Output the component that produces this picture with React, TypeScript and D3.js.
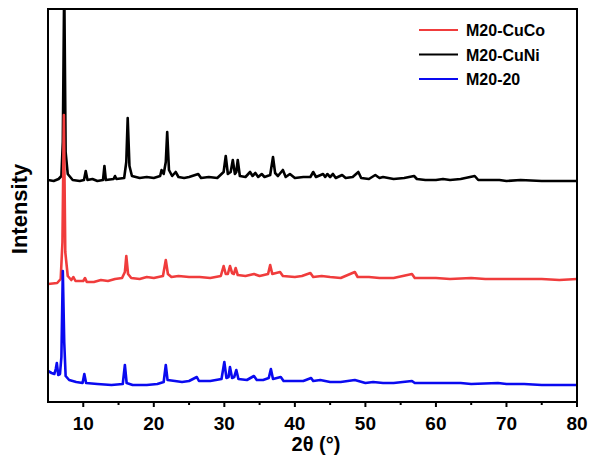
import React from "react";
import * as d3 from "d3";

const xTicks = [10, 20, 30, 40, 50, 60, 70, 80];
const xMinorTicks = [15, 25, 35, 45, 55, 65, 75];
const seriesNames = ["M20-CuCo", "M20-CuNi", "M20-20"];
const seriesColors = ["#f03c3c", "#000000", "#0a0af0"];

const cuNi: [number, number][] = [
  [5, 222], [5.8, 221], [6.5, 223], [6.9, 226], [7.1, 260], [7.3, 420], [7.5, 250], [7.8, 228], [8.5, 222], [9.5, 221],
  [10.1, 222], [10.35, 231], [10.6, 222], [11.3, 223], [12, 221], [12.8, 222], [13.0, 236], [13.2, 222], [14.3, 223],
  [14.5, 226], [14.7, 223], [15.8, 224], [16.1, 240], [16.3, 284], [16.55, 236], [16.9, 226], [18, 224], [19, 225],
  [20, 224], [20.9, 226], [21.1, 232], [21.4, 228], [21.7, 240], [21.9, 270], [22.15, 232], [22.6, 226],
  [23.1, 230], [23.5, 225], [24.3, 224], [25, 225], [26.3, 228], [26.7, 224], [27.8, 225], [29, 224], [29.9, 230], [30.2, 246],
  [30.5, 228], [30.9, 230], [31.2, 242], [31.5, 228], [31.7, 230], [31.9, 242], [32.2, 226], [33, 225],
  [33.65, 230], [34.0, 226], [34.4, 229], [34.8, 225], [35.3, 228], [35.7, 225], [36.5, 227], [36.9, 245],
  [37.2, 229], [37.6, 226], [38.3, 232], [38.7, 225], [39.3, 228], [40, 224], [41.2, 225], [42.2, 225], [42.6, 230],
  [43, 225], [44.0, 228], [44.3, 225], [44.6, 228], [45.0, 225], [45.4, 228], [45.8, 224], [46.7, 227],
  [47.2, 224], [48.2, 225], [49.0, 230], [49.4, 224], [50.5, 223], [51.4, 227], [52, 224], [52.5, 225], [54, 223], [55.5, 224], [56.9, 226],
  [57.3, 223], [58.5, 222], [60, 222], [61, 223], [62, 222], [63.5, 223], [65.5, 226], [66, 222], [67.5, 222], [69, 222], [70, 221], [72, 222], [75, 221], [77.5, 221], [80, 221],
];

const cuCo: [number, number][] = [
  [5, 118], [6.3, 119], [6.8, 123], [7.05, 160], [7.25, 287], [7.45, 150], [7.8, 126], [8.3, 122],
  [8.6, 125], [8.9, 121], [10.0, 121], [10.25, 124], [10.5, 120], [11.5, 120], [12.5, 122], [13.5, 121],
  [14.5, 123], [15.5, 124], [15.9, 130], [16.1, 146], [16.35, 128], [16.8, 124], [18, 123], [19, 125], [20, 124], [21.3, 126],
  [21.7, 142], [22.0, 128], [22.5, 125], [23.5, 126], [25, 125], [26.5, 125], [28, 124], [29.5, 126], [29.9, 136], [30.2, 128], [30.5, 128],
  [30.8, 136], [31.1, 129], [31.35, 128], [31.6, 134], [31.9, 127], [33, 126], [34.2, 128], [35, 126],
  [36.2, 128], [36.5, 137], [36.8, 128], [37.9, 130], [38.3, 126], [40, 125], [41, 126], [42.2, 129], [42.6, 125],
  [43.8, 126], [45, 125], [46.5, 124], [48.5, 130], [48.9, 125], [50.5, 125], [52, 124], [54, 124], [56.6, 128], [57, 124], [58.5, 124], [60, 124], [62, 123], [65, 124], [67, 123], [70, 123],
  [72.5, 123], [75, 123], [77.5, 122], [80, 123],
];

const m2020: [number, number][] = [
  [5, 31], [5.5, 29], [5.9, 28], [6.1, 33], [6.25, 39], [6.45, 27], [6.7, 28], [6.9, 45], [7.1, 131],
  [7.3, 60], [7.5, 26], [8.0, 22], [9.0, 20], [9.9, 19], [10.15, 28], [10.4, 19], [12, 18], [14, 17],
  [15.6, 18], [15.9, 37], [16.15, 19], [17, 17], [19, 17], [20.5, 18], [21.4, 20], [21.7, 37], [21.95, 22],
  [23, 21], [24, 20], [25, 21], [26.1, 25], [26.4, 21], [28, 21], [29.6, 23], [30.0, 40], [30.3, 24], [30.6, 25],
  [30.8, 35], [31.1, 24], [31.4, 25], [31.7, 32], [32.0, 23], [33.2, 22], [34.2, 26], [34.6, 22],
  [35.5, 22], [36.3, 24], [36.6, 33], [36.9, 23], [38.0, 25], [38.4, 21], [40, 21], [41.2, 21], [42.3, 24], [42.6, 21],
  [43.6, 22], [45, 20], [46.5, 20], [48.5, 22], [50, 19], [51.1, 20], [52.5, 19], [54, 19], [56.6, 21], [57, 19], [58.5, 19], [60, 19],
  [62, 19], [63.5, 19], [65, 18], [68.8, 19], [70, 18], [72.5, 18], [75, 17], [77.5, 17], [80, 17],
];

const seriesData = [cuCo, cuNi, m2020];

export default function App() {
  const W = 592, H = 458;
  const left = 48, right = 577, top = 9, bottom = 402;
  const x = d3.scaleLinear().domain([5, 80]).range([left, right]);
  const y = d3.scaleLinear().domain([0, 393]).range([bottom, top]);
  const line = d3.line<[number, number]>().x(d => x(d[0])).y(d => y(d[1]));
  const drawOrder = [1, 0, 2];
  const font = "'Liberation Sans', Arial, sans-serif";
  return (
    <svg width={W} height={H} style={{ position: "absolute", left: 0, top: 0, background: "#fff" }}
      fontFamily={font} fontWeight="bold">
      <defs>
        <clipPath id="plotclip">
          <rect x={left} y={top} width={right - left} height={bottom - top} />
        </clipPath>
      </defs>
      <g clipPath="url(#plotclip)">
        {drawOrder.map(i => (
          <path key={i} d={line(seriesData[i]) || ""} fill="none" stroke={seriesColors[i]}
            strokeWidth={2.6} strokeLinejoin="round" />
        ))}
      </g>
      <rect x={left} y={top} width={right - left} height={bottom - top} fill="none" stroke="#000" strokeWidth={2} />
      {xTicks.map(t => (
        <g key={t}>
          <line x1={x(t)} x2={x(t)} y1={bottom} y2={bottom + 5} stroke="#000" strokeWidth={2} />
          <text x={x(t)} y={430} textAnchor="middle" fontSize={19}>{t}</text>
        </g>
      ))}
      {xMinorTicks.map(t => (
        <line key={t} x1={x(t)} x2={x(t)} y1={bottom} y2={bottom + 3} stroke="#000" strokeWidth={2} />
      ))}
      <text x={316} y={451} textAnchor="middle" fontSize={20}>2θ (°)</text>
      <text transform={`translate(27,209) rotate(-90)`} textAnchor="middle" fontSize={22}>Intensity</text>
      {seriesNames.map((n, i) => (
        <g key={n}>
          <line x1={419} x2={458} y1={30 + i * 24.5} y2={30 + i * 24.5} stroke={seriesColors[i]} strokeWidth={2} />
          <text x={466} y={30 + i * 24.5 + 6} fontSize={16}>{n}</text>
        </g>
      ))}
    </svg>
  );
}
